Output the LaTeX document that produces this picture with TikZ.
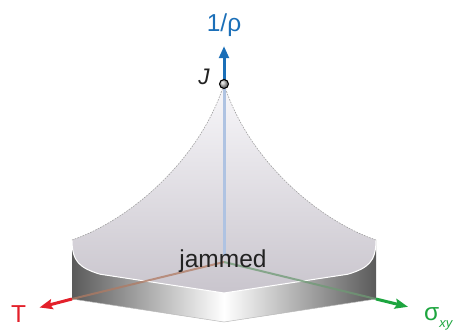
\documentclass[tikz,border=0pt]{standalone}
\usepackage{fontspec}
\setmainfont{Liberation Sans}
\usetikzlibrary{arrows.meta}
\definecolor{blueax}{HTML}{1B6FB8}
\definecolor{redax}{HTML}{E3202A}
\definecolor{greenax}{HTML}{1DA53F}
\definecolor{bluefaint}{HTML}{AFC3E2}
\definecolor{redfaint}{HTML}{B07A62}
\definecolor{greenfaint}{HTML}{6E9A74}
\definecolor{surftop}{HTML}{F8F7FA}
\definecolor{surfbot}{HTML}{C9C5CD}
\definecolor{facedark}{HTML}{5A5A5A}
\definecolor{inkdark}{HTML}{222222}
\tikzset{
  lab/.style={inner sep=0pt, anchor=base, font=\fontsize{24.5}{28}\selectfont},
  axisarrow/.style={line width=3pt, -{Stealth[length=13pt,width=10pt,inset=2pt]}},
  faintaxis/.style={line width=2pt, opacity=0.75},
  surfedge/.style={gray!75, line width=0.6pt, dash pattern=on 1.6pt off 1.2pt},
}
\begin{document}
\begin{tikzpicture}[x=1pt,y=-1pt]
\useasboundingbox (0,0) rectangle (455,332);
% key points
\coordinate (J) at (224,84);
\coordinate (LT) at (72,240);
\coordinate (RT) at (376,240);
\coordinate (LB) at (72,299);
\coordinate (RB) at (376,299);
\coordinate (FT) at (224,293);
\coordinate (FB) at (224,322);
\coordinate (LF) at (100,274.2);
\coordinate (RF) at (348,274.2);
\coordinate (O) at (224,262);
\coordinate (Tend) at (39.5,307.5);
\coordinate (Send) at (408,306.8);
\coordinate (Rtop) at (224,46);
\coordinate (Rbot) at (224,80);
% slab faces
\shade[left color=facedark, right color=white]
  (LT) .. controls (72,262) and (80,268) .. (LF) -- (FT) -- (FB) -- (LB) -- cycle;
\shade[left color=white, right color=facedark]
  (RT) .. controls (376,262) and (368,268) .. (RF) -- (FT) -- (FB) -- (RB) -- cycle;
\draw[gray!55, line width=0.5pt] (LB) -- (FB) -- (RB);
% surface
\shade[top color=surftop, bottom color=surfbot]
  (LT) .. controls (130,220) and (200,160) .. (J)
  .. controls (248,160) and (318,220) .. (RT)
  .. controls (376,262) and (368,268) .. (RF) -- (FT) -- (LF)
  .. controls (80,268) and (72,262) .. (LT) -- cycle;
\draw[white, line width=1pt]
  (LT) .. controls (72,262) and (80,268) .. (LF) -- (FT) -- (RF)
  .. controls (368,268) and (376,262) .. (RT);
\draw[surfedge] (LT) .. controls (130,220) and (200,160) .. (J);
\draw[surfedge] (RT) .. controls (318,220) and (248,160) .. (J);
% faint inner axes
\draw[bluefaint, line width=3pt] (J) -- (224,256);
\draw[faintaxis, redfaint] (O) -- (LB);
\draw[faintaxis, greenfaint] (O) -- (RB);
% outer axes
\draw[axisarrow, redax] (LB) -- (Tend);
\draw[axisarrow, greenax] (RB) -- (Send);
\draw[blueax, line width=3pt, -{Triangle[length=12pt,width=9.5pt]}] (Rbot) -- (Rtop);
% J point
\shade[ball color=gray!55] (J) circle (4.5);
\draw[black, line width=1pt] (J) circle (4.5);
% labels
\node[lab, text=blueax] (rholab) at (224,31.7) {1/ρ};
\node[lab, text=redax] (Tlab) at (18.5,322.5) {T};
\node[lab, text=inkdark, font=\fontsize{22.5}{26}\selectfont\itshape] (Jlab) at (204,84.5) {J};
\node[lab, text=inkdark] (jam) at (223,267) {jammed};
\node[lab, anchor=base west, text=greenax] (sig) at (424,320.5) {σ\raisebox{-7pt}{\fontsize{13}{14}\selectfont\itshape xy}};
\end{tikzpicture}
\end{document}
